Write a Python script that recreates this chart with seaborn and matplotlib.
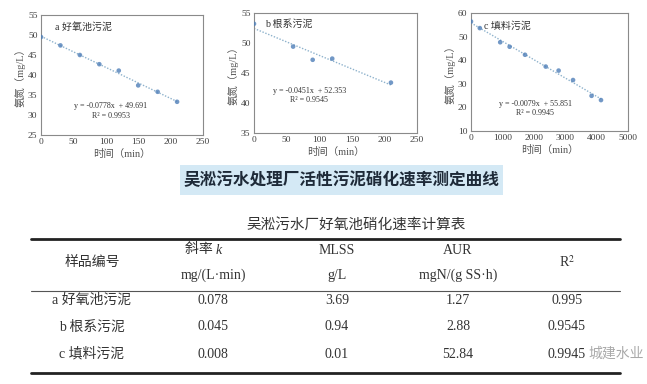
import matplotlib
matplotlib.use("Agg")
import matplotlib.pyplot as plt
from matplotlib.patches import Rectangle
from matplotlib.lines import Line2D
import seaborn as sns
import numpy as np
import pandas as pd

# ---------------- data ----------------
time_a = [0, 30, 60, 90, 120, 150, 180, 210]
nh3_a = [49.5, 47.4, 45.0, 42.7, 41.1, 37.4, 35.8, 33.3]

time_b = [0, 60, 90, 120, 210]
nh3_b = [53.2, 49.4, 47.2, 47.4, 43.4]

time_c = [0, 280, 930, 1230, 1720, 2380, 2790, 3250, 3840, 4140]
nh3_c = [56.4, 53.6, 47.6, 45.7, 42.3, 37.3, 35.6, 31.6, 24.9, 23.1]

panel_labels = ["a 好氧池污泥", "b 根系污泥", "c 填料污泥"]
equations = ["y = -0.0778x  + 49.691", "y = -0.0451x  + 52.353", "y = -0.0079x  + 55.851"]
r2_texts = ["R² = 0.9953", "R² = 0.9545", "R² = 0.9945"]

title_text = "吴淞污水处理厂活性污泥硝化速率测定曲线"
table_title = "吴淞污水厂好氧池硝化速率计算表"
samples = ["a 好氧池污泥", "b 根系污泥", "c 填料污泥"]
slope_k = ["0.078", "0.045", "0.008"]
mlss = ["3.69", "0.94", "0.01"]
aur = ["1.27", "2.88", "52.84"]
r2_vals = ["0.995", "0.9545", "0.9945"]
watermark = "城建水业"

# ---------------- style ----------------
sns.set_theme(style="white")
plt.rcParams['font.family'] = ['Liberation Serif', 'Noto Sans CJK SC', 'DejaVu Sans']
plt.rcParams['mathtext.fontset'] = 'stix'

W, H = 647, 384
fig = plt.figure(figsize=(W / 100, H / 100), dpi=100)
fig.patch.set_facecolor('white')

def fx(px):
    return px / W

def fy(py):
    return 1 - py / H

marker_color = '#4f7fb8'
line_color = '#8eb2cc'
text_gray = '#404040'

panels = [
    dict(x=time_a, y=nh3_a, box=(41, 15, 203, 135), xlim=(0, 250), xt=np.arange(0, 251, 50),
         ylim=(25, 55), yt=np.arange(25, 56, 5), lab=(0.086, 0.90), eq=(0.43, 0.24, 0.16)),
    dict(x=time_b, y=nh3_b, box=(254, 13, 417, 133), xlim=(0, 250), xt=np.arange(0, 251, 50),
         ylim=(35, 55), yt=np.arange(35, 56, 5), lab=(0.067, 0.91), eq=(0.34, 0.35, 0.275)),
    dict(x=time_c, y=nh3_c, box=(471, 13, 628, 131), xlim=(0, 5000), xt=np.arange(0, 5001, 1000),
         ylim=(10, 60), yt=np.arange(10, 61, 10), lab=(0.083, 0.89), eq=(0.41, 0.23, 0.15)),
]

for i, p in enumerate(panels):
    l, t, r, b = p['box']
    ax = fig.add_axes([fx(l), fy(b), fx(r - l), (b - t) / H])
    df = pd.DataFrame({'t': p['x'], 'n': p['y']})
    sns.regplot(data=df, x='t', y='n', ax=ax, ci=None, truncate=True,
                scatter_kws=dict(s=11, color=marker_color, edgecolor='none', zorder=3),
                line_kws=dict(color=line_color, lw=1.0, ls=(0, (1, 1.2)), zorder=2))
    ax.set_xlim(*p['xlim'])
    ax.set_ylim(*p['ylim'])
    ax.set_xticks(p['xt'])
    ax.set_yticks(p['yt'])
    ax.tick_params(axis='both', labelsize=6.8, colors=text_gray, length=0, pad=2.5)
    for s in ax.spines.values():
        s.set_color('#8a8a8a')
        s.set_linewidth(0.8)
    ax.set_xlabel("时间（min）", fontsize=7.5, color='#555555', labelpad=2)
    ax.set_ylabel("氨氮（mg/L）", fontsize=7.5, color='#555555', labelpad=2)
    ax.text(p['lab'][0], p['lab'][1], panel_labels[i], transform=ax.transAxes,
            fontsize=7.2, color='#333333', va='center', ha='left')
    ax.text(p['eq'][0], p['eq'][1], equations[i], transform=ax.transAxes,
            fontsize=5.8, color='#333333', va='center', ha='center')
    ax.text(p['eq'][0], p['eq'][2], r2_texts[i], transform=ax.transAxes,
            fontsize=5.8, color='#333333', va='center', ha='center')

# ---------------- title box ----------------
fig.patches.append(Rectangle((fx(180), fy(195)), fx(323), 30 / H, transform=fig.transFigure,
                             facecolor='#d4e9f5', edgecolor='none', zorder=0))
fig.text(fx(341), fy(180), title_text, fontsize=12, fontweight='bold', color='#1e2a38',
         ha='center', va='center', family=['Noto Sans CJK SC'])

fig.text(fx(356), fy(225), table_title, fontsize=10.5, color='#333333',
         ha='center', va='center', family=['Noto Sans CJK SC'])

# ---------------- table ----------------
def hline(y, lw, color):
    fig.lines.append(Line2D([fx(31), fx(620)], [fy(y), fy(y)], transform=fig.transFigure,
                            lw=lw, color=color))

hline(239, 2.0, '#222222')
hline(291, 0.8, '#555555')
hline(373, 2.0, '#222222')

col_x = [92, 213, 337, 458, 567]
tab_fs = 10
tab_color = '#333333'

fig.text(fx(col_x[0]), fy(262), "样品编号", fontsize=tab_fs, color=tab_color, ha='center', va='center')
fig.text(fx(col_x[1] + 3), fy(250), "斜率 ", fontsize=tab_fs, color=tab_color, ha='right', va='center')
fig.text(fx(col_x[1] + 3), fy(250), "k", fontsize=tab_fs, color=tab_color, ha='left', va='center',
         style='italic')
fig.text(fx(col_x[1]), fy(275), "mg/(L·min)", fontsize=tab_fs, color=tab_color, ha='center', va='center')
fig.text(fx(col_x[2]), fy(250), "MLSS", fontsize=tab_fs, color=tab_color, ha='center', va='center')
fig.text(fx(col_x[2]), fy(275), "g/L", fontsize=tab_fs, color=tab_color, ha='center', va='center')
fig.text(fx(col_x[3]), fy(250), "AUR", fontsize=tab_fs, color=tab_color, ha='center', va='center')
fig.text(fx(col_x[3]), fy(275), "mgN/(g SS·h)", fontsize=tab_fs, color=tab_color, ha='center', va='center')
fig.text(fx(col_x[4]), fy(262), "R$^2$", fontsize=tab_fs, color=tab_color, ha='center', va='center')

row_y = [300, 327, 354]
for j in range(3):
    vals = [samples[j], slope_k[j], mlss[j], aur[j], r2_vals[j]]
    for k, v in enumerate(vals):
        fig.text(fx(col_x[k]), fy(row_y[j]), v, fontsize=tab_fs, color=tab_color,
                 ha='center', va='center')

# watermark (kept clear of the table value)
fig.text(fx(644), fy(354), watermark, fontsize=10, color='#9a9a9a', alpha=0.85,
         ha='right', va='center', family=['Noto Sans CJK SC'])

fig.savefig("out.png", dpi=100, facecolor='white')
